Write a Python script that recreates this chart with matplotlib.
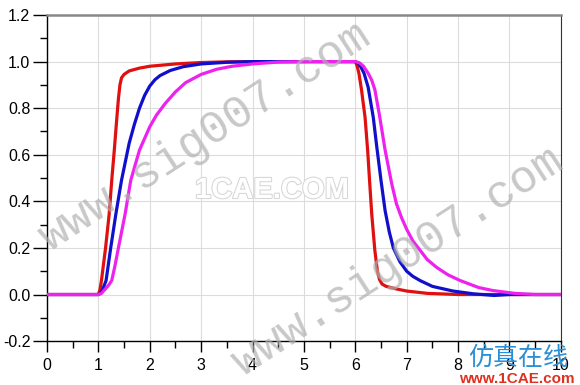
import matplotlib.pyplot as plt
import matplotlib.patheffects as pe
from matplotlib.ticker import MultipleLocator, FormatStrFormatter

# =========================
# DATA
# =========================
red_t = [0, 1.0, 1.03, 1.06, 1.1, 1.14, 1.21, 1.26, 1.31, 1.36, 1.39, 1.42, 1.45, 1.5, 1.6, 1.8,
         2.0, 2.5, 3.0, 3.5, 4.0, 6.0, 6.03, 6.07, 6.12, 6.19, 6.24, 6.28, 6.32, 6.38, 6.43,
         6.47, 6.52, 6.6, 6.8, 7.0, 7.4, 8.0, 10]
red_v = [0, 0, 0.02, 0.06, 0.13, 0.2, 0.345, 0.49, 0.62, 0.76, 0.84, 0.9, 0.93, 0.945, 0.96, 0.972,
         0.98, 0.99, 0.996, 0.999, 1.0, 1.0, 0.985, 0.95, 0.88, 0.76, 0.62, 0.48, 0.345, 0.19, 0.1,
         0.065, 0.045, 0.035, 0.024, 0.015, 0.005, 0.0, 0]

blue_t = [0, 1.0, 1.04, 1.08, 1.15, 1.24, 1.34, 1.45, 1.6, 1.7, 1.8, 1.9, 2.0, 2.1, 2.2, 2.4,
          2.65, 3.0, 3.5, 4.0, 6.0, 6.05, 6.1, 6.17, 6.25, 6.35, 6.42, 6.5, 6.58, 6.66, 6.74,
          6.87, 7.0, 7.12, 7.26, 7.5, 7.9, 8.3, 8.7, 9.0, 10]
blue_v = [0, 0, 0.005, 0.02, 0.06, 0.2, 0.345, 0.49, 0.65, 0.73, 0.8, 0.855, 0.895, 0.922, 0.94, 0.962,
          0.978, 0.99, 0.997, 1.0, 1.0, 0.993, 0.98, 0.95, 0.89, 0.76, 0.63, 0.49, 0.36, 0.27, 0.2,
          0.14, 0.1, 0.078, 0.06, 0.035, 0.015, 0.003, -0.004, 0, 0]

mag_t = [0, 1.0, 1.06, 1.12, 1.2, 1.26, 1.32, 1.39, 1.52, 1.63, 1.8, 2.0, 2.13, 2.3, 2.5, 2.7,
         3.0, 3.3, 3.6, 4.0, 4.5, 5.0, 6.0, 6.08, 6.16, 6.25, 6.32, 6.38, 6.47, 6.58, 6.71, 6.8,
         6.9, 7.0, 7.12, 7.26, 7.4, 7.58, 7.8, 8.04, 8.4, 8.68, 9.1, 9.5, 10]
mag_v = [0, 0, 0.005, 0.02, 0.04, 0.06, 0.12, 0.2, 0.345, 0.49, 0.62, 0.72, 0.77, 0.82, 0.87, 0.91,
         0.945, 0.967, 0.98, 0.99, 0.998, 1.0, 1.0, 0.995, 0.98, 0.95, 0.92, 0.88, 0.77, 0.62, 0.474, 0.39,
         0.33, 0.28, 0.23, 0.19, 0.15, 0.117, 0.085, 0.06, 0.03, 0.017, 0.005, 0, 0]

x_ticks = list(range(0, 11))
y_ticks = [-0.2, 0.0, 0.2, 0.4, 0.6, 0.8, 1.0, 1.2]

# =========================
# FIGURE
# =========================
plt.rcParams['font.family'] = ['Liberation Sans', 'DejaVu Sans']

fig = plt.figure(figsize=(5.8, 3.85), dpi=100)
ax = fig.add_axes([0.081, 0.114, 0.886, 0.847])

ax.plot(red_t, red_v, color='#e01010', lw=2.3, solid_capstyle='round', zorder=3)
ax.plot(blue_t, blue_v, color='#1010cc', lw=2.3, solid_capstyle='round', zorder=4)
ax.plot(mag_t, mag_v, color='#ee22ee', lw=2.3, solid_capstyle='round', zorder=5)

ax.set_xlim(0, 10)
ax.set_ylim(-0.2, 1.2)
ax.set_xticks(x_ticks)
ax.set_yticks(y_ticks)
ax.yaxis.set_major_formatter(FormatStrFormatter('%.1f'))
ax.xaxis.set_minor_locator(MultipleLocator(0.5))
ax.yaxis.set_minor_locator(MultipleLocator(0.1))

ax.grid(True, which='major', color='#dcdcdc', lw=0.8)
ax.tick_params(axis='y', which='major', length=10, width=1, labelsize=11.5, pad=2)
ax.tick_params(axis='x', which='major', length=8, width=1, labelsize=11.5, pad=4)
ax.tick_params(which='minor', length=5, width=1)

ax.spines['top'].set_color('#888888')
ax.spines['top'].set_linewidth(1.8)
ax.spines['right'].set_color('#333333')
for s in ['left', 'bottom']:
    ax.spines[s].set_color('black')
    ax.spines[s].set_linewidth(1)

# =========================
# WATERMARKS
# =========================
fig.text(205 / 580, 1 - 137 / 385, 'www.sig007.com', family='Liberation Mono', fontsize=33,
         color='#b0b0b0', alpha=0.7, rotation=33, ha='center', va='center', zorder=10)
fig.text(398 / 580, 1 - 262 / 385, 'www.sig007.com', family='Liberation Mono', fontsize=33,
         color='#b0b0b0', alpha=0.7, rotation=33, ha='center', va='center', zorder=10)
fig.text(272 / 580, 1 - 190 / 385, '1CAE.COM', fontsize=21, fontweight='bold',
         color='white', ha='center', va='center', zorder=2,
         path_effects=[pe.withStroke(linewidth=1.5, foreground='#d6d6d6')])
fig.text(518 / 580, 1 - 358 / 385, '仿真在线', family=['Noto Sans CJK SC', 'DejaVu Sans'],
         fontsize=18, color='#2a8fd6', ha='center', va='center', zorder=11)
fig.text(517 / 580, 1 - 379 / 385, 'www.1CAE.com', fontsize=11, fontweight='bold',
         color='#e03020', ha='center', va='center', zorder=11)

fig.savefig('out.png', dpi=100)
